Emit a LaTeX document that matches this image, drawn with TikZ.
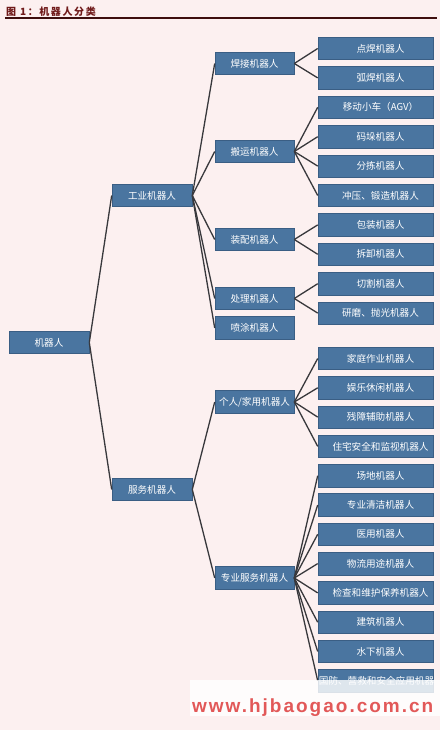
\documentclass[tikz,border=0pt]{standalone}
\usepackage{fontspec}
\setmainfont{Noto Sans CJK SC}
\newfontfamily\titlefont[LetterSpace=16]{Noto Sans CJK SC}
\newfontfamily\wmfont[LetterSpace=10.5]{Liberation Sans}
\definecolor{bg}{RGB}{252,240,240}
\definecolor{boxfill}{RGB}{74,117,160}
\definecolor{boxline}{RGB}{58,94,132}
\definecolor{conncolor}{RGB}{56,56,60}
\definecolor{titlered}{RGB}{112,26,26}
\definecolor{wmred}{RGB}{226,88,88}
\tikzset{
  box/.style={fill=boxfill, draw=boxline, line width=0.6pt, text=white, inner sep=0pt,
    minimum height=22.5pt, font=\fontsize{9.6}{10}\selectfont},
  rootbox/.style={box, minimum width=80pt},
  lone/.style={box, minimum width=80pt},
  ltwo/.style={box, minimum width=79pt},
  leaf/.style={box, minimum width=115pt},
  link/.style={draw=conncolor, line width=1.3pt},
}
\newcommand{\lt}[1]{\hspace*{10pt}#1}
\begin{document}
\begin{tikzpicture}[x=1pt,y=-1pt]
\path[fill=bg] (0,0) rectangle (440,730);
\useasboundingbox (0,0) rectangle (440,730);
% title
\node[anchor=base west, inner sep=0pt, text=titlered, font=\titlefont\bfseries\fontsize{10}{11}\selectfont] (title) at (6,15.2) {图 1：机器人分类};
\coordinate (tl) at (5,18.5);
\coordinate (tr) at (437,18.5);
\draw[titlered!55!black, line width=2pt] (tl) -- (tr);
% root and level 1
\node[rootbox] (root) at (49,342.5) {机器人};
\node[lone] (ind) at (152,195.5) {工业机器人};
\node[lone] (srv) at (152,489.5) {服务机器人};
% level 2
\node[ltwo] (weld) at (254.5,63.5) {焊接机器人};
\node[ltwo] (move) at (254.5,151.5) {搬运机器人};
\node[ltwo] (asm) at (254.5,239.5) {装配机器人};
\node[ltwo] (proc) at (254.5,298.5) {处理机器人};
\node[ltwo] (spray) at (254.5,328) {喷涂机器人};
\node[ltwo] (pers) at (254.5,402) {个人/家用机器人};
\node[ltwo] (prof) at (254.5,578) {专业服务机器人};
% leaves
\node[leaf] (a1) at (375.5,48.5) {\lt{点焊机器人}};
\node[leaf] (a2) at (375.5,77.9) {\lt{弧焊机器人}};
\node[leaf] (b1) at (375.5,107.3) {\lt{移动小车（AGV）}};
\node[leaf] (b2) at (375.5,136.7) {\lt{码垛机器人}};
\node[leaf] (b3) at (375.5,166.1) {\lt{分拣机器人}};
\node[leaf] (b4) at (375.5,195.5) {\lt{冲压、锻造机器人}};
\node[leaf] (c1) at (375.5,224.9) {\lt{包装机器人}};
\node[leaf] (c2) at (375.5,254.3) {\lt{拆卸机器人}};
\node[leaf] (d1) at (375.5,283.7) {\lt{切割机器人}};
\node[leaf] (d2) at (375.5,313.1) {\lt{研磨、抛光机器人}};
\node[leaf] (e1) at (375.5,358.5) {\lt{家庭作业机器人}};
\node[leaf] (e2) at (375.5,387.8) {\lt{娱乐休闲机器人}};
\node[leaf] (e3) at (375.5,417.1) {\lt{残障辅助机器人}};
\node[leaf] (e4) at (375.5,446.4) {\lt{住宅安全和监视机器人}};
\node[leaf] (f1) at (375.5,475.7) {\lt{场地机器人}};
\node[leaf] (f2) at (375.5,505.0) {\lt{专业清洁机器人}};
\node[leaf] (f3) at (375.5,534.3) {\lt{医用机器人}};
\node[leaf] (f4) at (375.5,563.6) {\lt{物流用途机器人}};
\node[leaf] (f5) at (375.5,592.9) {\lt{检查和维护保养机器人}};
\node[leaf] (f6) at (375.5,622.2) {\lt{建筑机器人}};
\node[leaf] (f7) at (375.5,651.5) {\lt{水下机器人}};
\node[leaf] (f8) at (375.5,680.8) {};
\begin{scope}
\clip (f8.south west) rectangle (f8.north east);
\node[anchor=west, inner sep=0pt, text=white, font=\fontsize{9.6}{10}\selectfont] (f8t) at ([xshift=1pt]f8.west) {国防、营救和安全应用机器人};
\end{scope}
% connectors
\foreach \c in {ind,srv} \draw[link] (root.east) -- (\c.west);
\foreach \c in {weld,move,asm,proc,spray} \draw[link] (ind.east) -- (\c.west);
\foreach \c in {pers,prof} \draw[link] (srv.east) -- (\c.west);
\foreach \c in {a1,a2} \draw[link] (weld.east) -- (\c.west);
\foreach \c in {b1,b2,b3,b4} \draw[link] (move.east) -- (\c.west);
\foreach \c in {c1,c2} \draw[link] (asm.east) -- (\c.west);
\foreach \c in {d1,d2} \draw[link] (proc.east) -- (\c.west);
\foreach \c in {e1,e2,e3,e4} \draw[link] (pers.east) -- (\c.west);
\foreach \c in {f1,f2,f3,f4,f5,f6,f7,f8} \draw[link] (prof.east) -- (\c.west);
% watermark
\fill[white, opacity=0.82] (190,680) rectangle (440,716);
\node[anchor=base west, inner sep=0pt, text=wmred, font=\wmfont\bfseries\fontsize{19}{21}\selectfont] (wm) at (192,712) {www.hjbaogao.com.cn};
\end{tikzpicture}
\end{document}
